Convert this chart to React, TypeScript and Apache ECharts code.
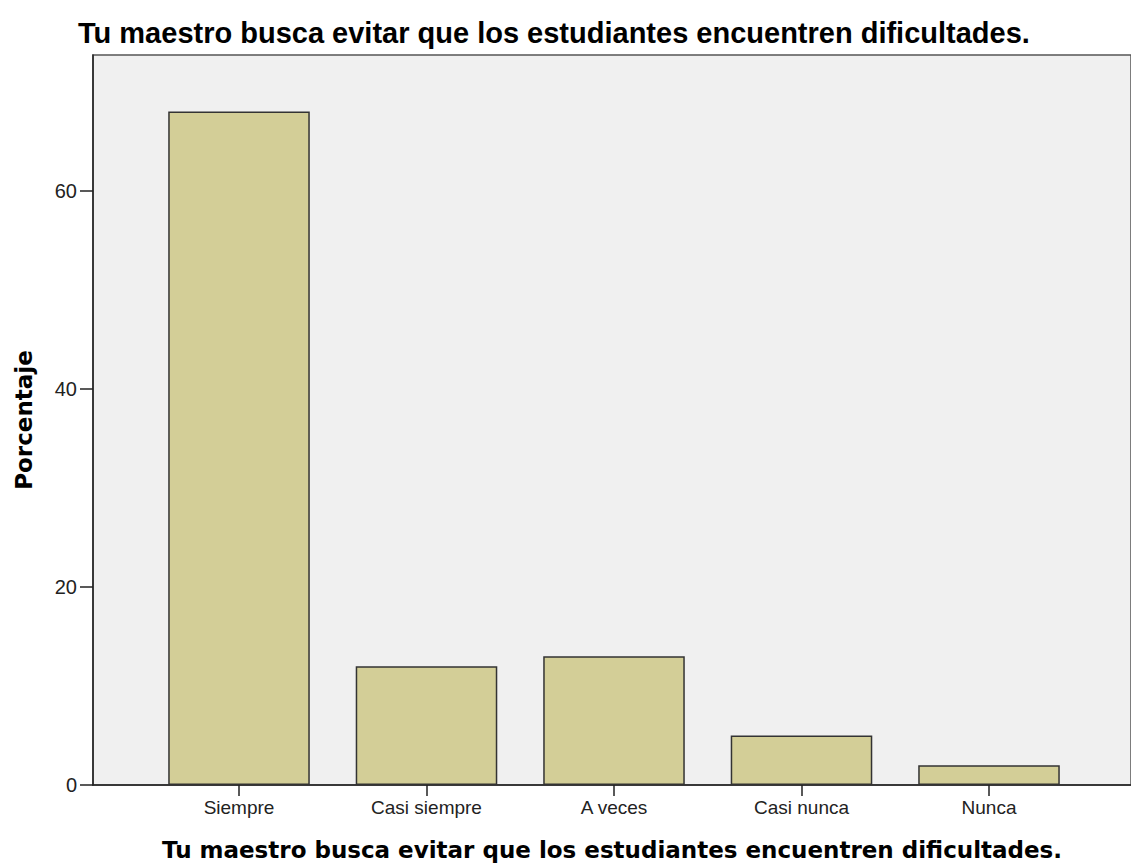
import React, { useEffect, useRef } from "react";
import * as echarts from "echarts";

const categories = ["Siempre", "Casi siempre", "A veces", "Casi nunca", "Nunca"];
const percentages = [68, 12, 13, 5, 2];
const yTicks = [0, 20, 40, 60];
const chartTitle = "Tu maestro busca evitar que los estudiantes encuentren dificultades.";
const xAxisTitle = "Tu maestro busca evitar que los estudiantes encuentren dificultades.";
const yAxisTitle = "Porcentaje";

const Y_MAX = 73.7;

export default function App() {
  const ref = useRef<HTMLDivElement>(null);
  useEffect(() => {
    document.body.style.margin = "0";
    const chart = echarts.init(ref.current!, null, { renderer: "svg" });
    chart.setOption({
      animation: false,
      backgroundColor: "#ffffff",
      grid: [
        { left: 93, top: 55, right: -20, bottom: 78, show: true, backgroundColor: "#F0F0F0", borderColor: "#555", borderWidth: 1.5 },
        { left: 145.25, width: 937.5, top: 55, bottom: 78 },
      ],
      xAxis: [
        {
          gridIndex: 0,
          type: "value",
          min: 0,
          max: 1,
          axisLine: { show: true, lineStyle: { color: "#222", width: 1.5 } },
          axisTick: { show: false },
          axisLabel: { show: false },
          splitLine: { show: false },
        },
        {
          gridIndex: 1,
          type: "category",
          data: categories,
          boundaryGap: true,
          axisLine: { show: false },
          axisTick: { show: true, alignWithLabel: true, length: 11, lineStyle: { color: "#222", width: 1.5 } },
          axisLabel: { color: "#222", fontSize: 19, fontFamily: "Liberation Sans", margin: 13 },
        },
      ],
      yAxis: [
        {
          gridIndex: 0,
          type: "value",
          min: 0,
          max: Y_MAX,
          interval: 20,
          axisLine: { show: true, lineStyle: { color: "#222", width: 1.5 } },
          axisTick: { show: true, length: 13, customValues: yTicks, lineStyle: { color: "#222", width: 1.5 } },
          axisLabel: { color: "#222", fontSize: 20, fontFamily: "Liberation Sans", margin: 16, customValues: yTicks },
          splitLine: { show: false },
        },
        {
          gridIndex: 1,
          type: "value",
          min: 0,
          max: Y_MAX,
          show: false,
          splitLine: { show: false },
        },
      ],
      graphic: [
        {
          type: "text",
          x: 78,
          y: 33,
          style: {
            text: chartTitle,
            fontFamily: "Liberation Sans",
            fontWeight: "bold",
            fontSize: 29,
            fill: "#000",
            textAlign: "left",
            textVerticalAlign: "middle",
          },
        },
        {
          type: "text",
          x: 612,
          y: 850,
          style: {
            text: xAxisTitle,
            fontFamily: "DejaVu Sans",
            fontWeight: "bold",
            fontSize: 23,
            fill: "#000",
            textAlign: "center",
            textVerticalAlign: "middle",
          },
        },
        {
          type: "text",
          x: 24,
          y: 420,
          rotation: Math.PI / 2,
          style: {
            text: yAxisTitle,
            fontFamily: "DejaVu Sans",
            fontWeight: "bold",
            fontSize: 23,
            fill: "#000",
            textAlign: "center",
            textVerticalAlign: "middle",
          },
        },
      ],
      series: [
        {
          type: "bar",
          xAxisIndex: 1,
          yAxisIndex: 1,
          data: percentages,
          barWidth: "75.5%",
          itemStyle: { color: "#D3CE97", borderColor: "#333", borderWidth: 1.5 },
        },
      ],
    });
    return () => chart.dispose();
  }, []);
  return <div ref={ref} style={{ width: 1131, height: 863 }} />;
}
